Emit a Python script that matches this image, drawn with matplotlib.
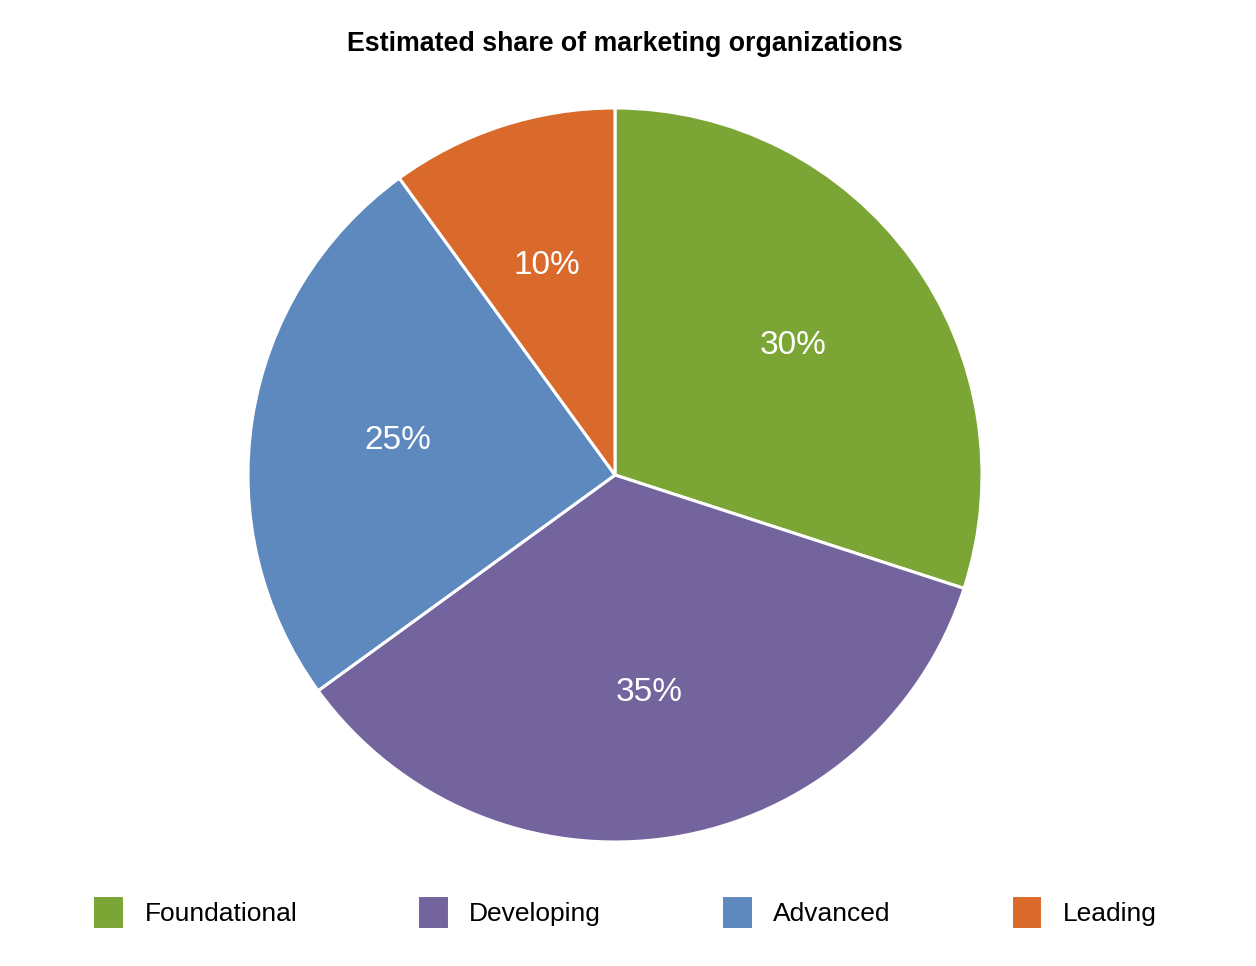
import matplotlib.pyplot as plt

# data
labels = ['Foundational', 'Developing', 'Advanced', 'Leading']
shares = [30, 35, 25, 10]
colors = ['#7BA535', '#73649E', '#5E89BE', '#D96A2C']

plt.rcParams['font.family'] = ['Liberation Sans', 'DejaVu Sans']

fig = plt.figure(figsize=(12.56, 9.66), dpi=100)

# pie centre at (615, 475) px, radius 367 px
cx, cy, r = 615, 475, 367
W, H = 1256, 966
ax = fig.add_axes([(cx - r) / W, (H - cy - r) / H, 2 * r / W, 2 * r / H])

wedges, texts, autotexts = ax.pie(
    shares, colors=colors, startangle=90, counterclock=False,
    autopct='%d%%', pctdistance=0.6,
    wedgeprops=dict(edgecolor='white', linewidth=2.2),
    textprops=dict(color='white', fontsize=24))
ax.set_xlim(-1, 1)
ax.set_ylim(-1, 1)
ax.set_aspect('equal')

fig.text(625 / W, 1 - 44 / H, 'Estimated share of marketing organizations',
         ha='center', va='center', fontsize=19.3, fontweight='bold')

fig.legend(wedges, labels, loc='center', bbox_to_anchor=(624.5 / W, 1 - 912 / H),
           ncol=4, frameon=False, fontsize=19, borderpad=0,
           handlelength=1.19, handleheight=1.6, handletextpad=0.78,
           columnspacing=4.55)

fig.savefig('out.png', dpi=100)
